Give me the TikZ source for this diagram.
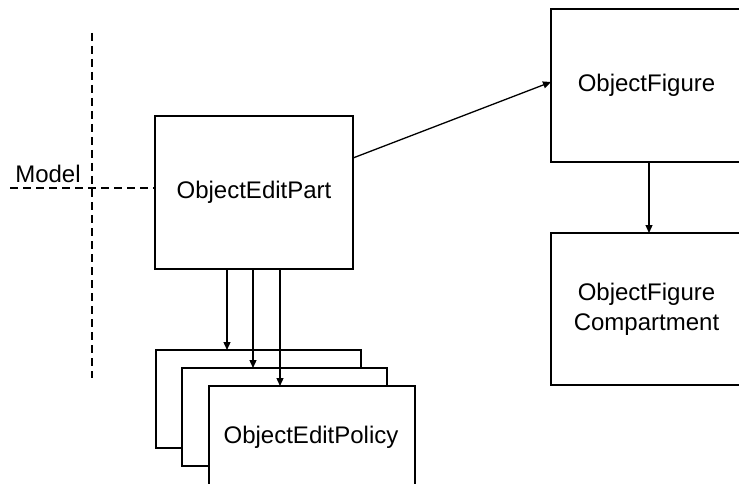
\documentclass[tikz,border=0pt]{standalone}
\usepackage{fontspec}
\setmainfont{Liberation Sans}
\usetikzlibrary{arrows.meta}
\begin{document}
\begin{tikzpicture}[x=1pt,y=-1pt,
  every node/.style={font=\fontsize{24}{30}\selectfont},
  box/.style={draw, line width=1.3pt, fill=white, inner sep=0pt, outer sep=0pt, align=center},
  link/.style={line width=1.3pt, -{Triangle[length=8pt,width=7pt]}},
  border/.style={line width=1.3pt, dashed, dash pattern=on 8pt off 5pt}]
\useasboundingbox (0,0) rectangle (739,484);

% model boundary
\coordinate (vtop) at (92,33);
\coordinate (vbot) at (92,378);
\coordinate (hleft) at (10,188);
\draw[border] (vtop) -- (vbot);
\node (model) at (48,174) {Model};

% edit part
\node[box, minimum width=198pt, minimum height=153pt] (part) at (254,192.5) {ObjectEditPart};
\draw[border] (hleft) -- (hleft -| part.west);

% stacked edit policies
\node[box, minimum width=205pt, minimum height=98pt] (pol1) at (258.5,399) {};
\node[box, minimum width=205pt, minimum height=98pt] (pol2) at (284.5,417) {};
\node[box, minimum width=206pt, minimum height=104pt] (pol3) at (312,438) {};
\node (poltext) at (311,437) {ObjectEditPolicy};

\coordinate (s1) at (227,269);
\coordinate (s2) at (253,269);
\coordinate (s3) at (280,269);
\draw[link] (s1) -- (s1 |- pol1.north);
\draw[link] (s2) -- (s2 |- pol2.north);
\draw[link] (s3) -- (s3 |- pol3.north);

% figures
\node[box, minimum width=191pt, minimum height=153pt] (fig) at (646.5,85.5) {ObjectFigure};
\node[box, minimum width=191pt, minimum height=152pt] (comp) at (646.5,309) {ObjectFigure\\Compartment};

\coordinate (pe) at (353,158);
\draw[link] (pe) -- (fig.west |- 0,82);
\coordinate (fb) at (649,162);
\draw[link] (fb) -- (fb |- comp.north);
\end{tikzpicture}
\end{document}
